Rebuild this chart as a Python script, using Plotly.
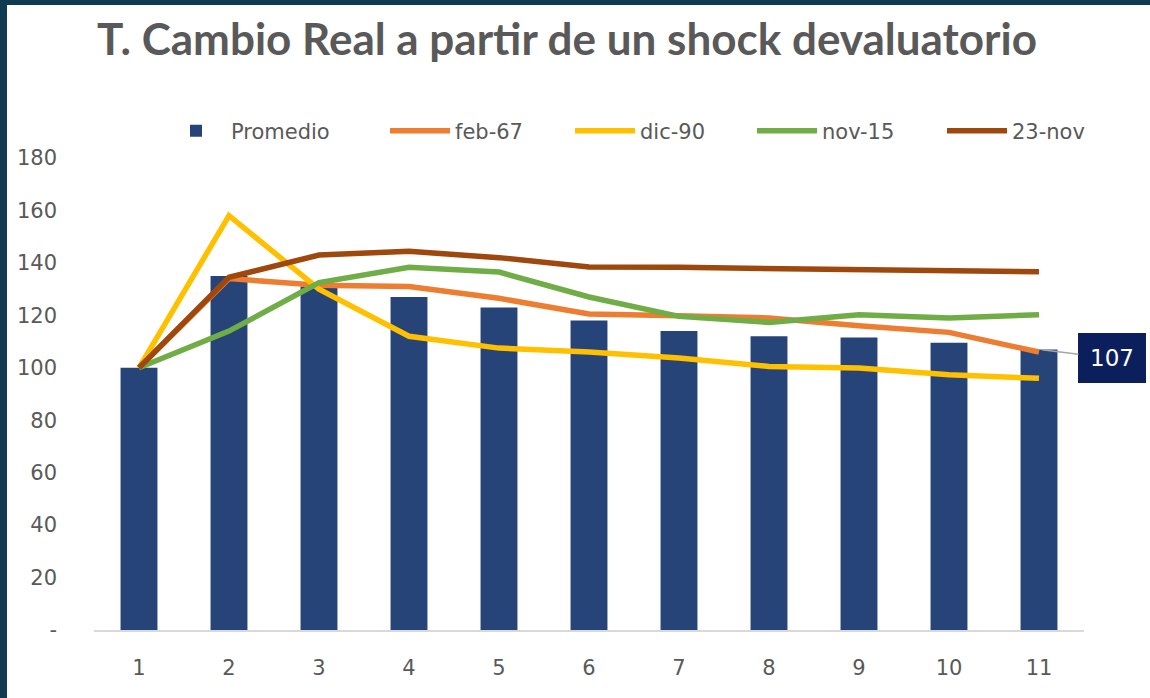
import plotly.graph_objects as go

periods = list(range(1, 12))
promedio = [100, 135, 131, 127, 123, 118, 114, 112, 111.5, 109.5, 107]
feb67 = [100, 134, 131.5, 131, 126.5, 120.5, 119.8, 119, 116, 113.5, 106]
dic90 = [100, 158, 130, 112, 107.5, 106, 103.7, 100.5, 99.9, 97.3, 96]
nov15 = [100, 114, 132.5, 138.3, 136.5, 127, 119.6, 117.3, 120.2, 119, 120.2]
nov23 = [100, 134.5, 143, 144.4, 142, 138.4, 138.3, 137.8, 137.4, 137, 136.6]

y_tickvals = [0, 20, 40, 60, 80, 100, 120, 140, 160, 180]
y_ticktext = ["-", "20", "40", "60", "80", "100", "120", "140", "160", "180"]

line_series = [
    ("feb-67", feb67, "#ED7D31"),
    ("dic-90", dic90, "#FFC000"),
    ("nov-15", nov15, "#70AD47"),
    ("23-nov", nov23, "#9E480E"),
]

GRAY = "#595959"
FRAME = "#0F3A50"

W, H = 1150, 698
L, R, T, B = 94, 66, 158, 68
pw, ph = W - L - R, H - T - B

def px2paper_x(px):
    return (px - L) / pw

def px2paper_y(py):
    return (H - B - py) / ph

# legend entry text positions (px) as in the reference
legend_text_x = [231, 455, 640, 822, 1012]
legend_ids = ["legend", "legend2", "legend3", "legend4", "legend5"]

fig = go.Figure()
fig.add_trace(go.Bar(x=periods, y=promedio, name="Promedio", legend=legend_ids[0],
                     marker=dict(color="#264478", line=dict(width=0))))
for i, (name, vals, col) in enumerate(line_series):
    fig.add_trace(go.Scatter(x=periods, y=vals, name=name, mode="lines",
                             legend=legend_ids[i + 1],
                             line=dict(color=col, width=5.5)))

# data label for last Promedio value
fig.add_annotation(x=periods[-1], y=promedio[-1], text=f"{promedio[-1]:g}",
                   showarrow=True, arrowhead=0, arrowwidth=1.5, arrowcolor="#A6A6A6",
                   ax=73, ay=9, standoff=3, bgcolor="#0B1F5C", bordercolor="#0B1F5C",
                   borderwidth=1, borderpad=11, width=44, height=26,
                   font=dict(family="DejaVu Sans", size=23, color="white"))

# white chart card over a dark frame
fig.add_shape(type="rect", xref="paper", yref="paper",
              x0=px2paper_x(7), x1=px2paper_x(W + 5), y0=px2paper_y(H + 5), y1=px2paper_y(5),
              fillcolor="white", line=dict(width=0), layer="below")

legend_layouts = {}
for lid, tx in zip(legend_ids, legend_text_x):
    legend_layouts[lid] = dict(
        orientation="h", x=px2paper_x(tx - 70), xanchor="left",
        y=px2paper_y(131), yanchor="middle", bgcolor="rgba(0,0,0,0)",
        font=dict(family="DejaVu Sans", size=21, color=GRAY),
        itemwidth=60)

fig.update_layout(
    width=W, height=H,
    margin=dict(l=L, r=R, t=T, b=B, autoexpand=False),
    paper_bgcolor=FRAME, plot_bgcolor="white",
    title=dict(text="T. Cambio Real a partir de un shock devaluatorio",
               font=dict(family="Lato", size=44, color=GRAY, weight="bold"),
               x=567 / W, xanchor="center", y=1 - 40 / H, yanchor="middle"),
    bargap=0.59,
    showlegend=True,
    xaxis=dict(tickvals=periods, ticktext=[str(p) for p in periods],
               range=[0.5, 11.5], showgrid=False, zeroline=False,
               showline=True, linecolor="#D9D9D9", linewidth=2,
               ticks="", ticklabelstandoff=18,
               tickfont=dict(family="DejaVu Sans", size=21, color=GRAY)),
    yaxis=dict(tickvals=y_tickvals, ticktext=y_ticktext, range=[0, 180],
               showgrid=False, zeroline=False, showline=False, ticks="",
               ticklabelstandoff=36,
               tickfont=dict(family="DejaVu Sans", size=21, color=GRAY)),
    **legend_layouts,
)

fig.write_html("out.html", config={"displayModeBar": False},
               post_script="document.body.style.margin='0px';document.body.style.overflow='hidden';")
